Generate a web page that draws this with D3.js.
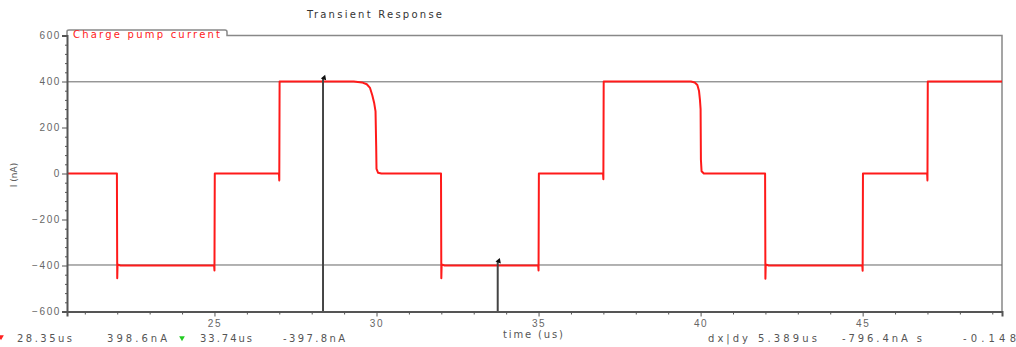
<!DOCTYPE html>
<html>
<head>
<meta charset="utf-8">
<script src="https://cdn.jsdelivr.net/npm/d3@7"></script>
<style>
	body { margin: 0; background: #fff; }
	svg { display: block; font-family: "DejaVu Sans", sans-serif; }
	.tick text { fill: #666; font-size: 10px; }
	.axis path, .axis line { stroke: #555; }
</style>
</head>
<body>
<div id="chart"></div>
<script>
// trace: charge pump current (nA) vs time (us)
var times = [20.45, 21.99, 22.0, 22.01, 22.1,
	24.99, 25.0, 25.01,
	26.99, 27.0, 27.01,
	29.3, 29.55, 29.7, 29.8, 29.87, 29.93, 29.97, 29.99, 30.0, 30.05, 30.15,
	31.99, 32.0, 32.01, 32.1,
	34.99, 35.0, 35.01,
	36.99, 37.0, 37.01,
	39.7, 39.82, 39.9, 39.95, 39.98, 40.0, 40.01, 40.03, 40.1,
	41.99, 42.0, 42.01, 42.1,
	44.99, 45.0, 45.01,
	46.99, 47.0, 47.01, 49.3];
var current = [0, 0, -455, -395, -400,
	-400, -422, 0,
	0, -30, 400,
	400, 396, 388, 372, 340, 305, 270, 120, 20, 3, 0,
	0, -455, -395, -400,
	-400, -422, 0,
	0, -25, 400,
	400, 396, 385, 360, 320, 280, 60, 10, 0,
	0, -458, -395, -400,
	-400, -423, 0,
	0, -30, 400, 400];

var yTicks = [-600, -400, -200, 0, 200, 400, 600];
var xTicks = [25, 30, 35, 40, 45];
var xMinor = [21, 22, 23, 24, 26, 27, 28, 29, 31, 32, 33, 34, 36, 37, 38, 39, 41, 42, 43, 44, 46, 47, 48, 49];
var yMinor = d3.range(-560, 600, 40).filter(function(v) { return v % 200 !== 0; });

// cursors
var cursorT = [28.35, 33.74];
var cursorI = [398.6, -397.8];
var readout = ["28.35us", "398.6nA", "33.74us", "-397.8nA", "dx|dy", "5.389us", "-796.4nA s", "-0.148"];

var width = 1016, height = 347;
var plotL = 67, plotR = 1002, plotT = 35.5, plotB = 311.5;

var svg = d3.select("#chart").append("svg")
	.attr("width", width)
	.attr("height", height);

var xScale = d3.scaleLinear().domain([20.45, 49.3]).range([plotL, plotR]);
var yScale = d3.scaleLinear().domain([-600, 600]).range([plotB, plotT]);

// title
svg.append("text")
	.attr("x", 307).attr("y", 18)
	.attr("textLength", 135).attr("lengthAdjust", "spacing")
	.style("font-size", "10px").style("fill", "#333")
	.text("Transient Response");

// frame: top with legend tab, right side
svg.append("path")
	.attr("d", "M" + plotL + "," + (plotT + 1) + "V31.5Q" + plotL + ",30 " + (plotL + 2) + ",30H225Q227,30 227,32V" + plotT + "H" + plotR + "V" + plotB)
	.attr("fill", "none")
	.attr("stroke", "#888")
	.attr("stroke-width", 1.5);

// cursor horizontal lines
svg.selectAll(".hcursor")
	.data(cursorI)
	.enter()
	.append("line")
	.attr("class", "hcursor")
	.attr("x1", plotL).attr("x2", plotR)
	.attr("y1", function(d) { return yScale(d); })
	.attr("y2", function(d) { return yScale(d); })
	.attr("stroke", "#666")
	.attr("stroke-width", 1);

// the trace
var line = d3.line()
	.x(function(d, i) { return xScale(times[i]); })
	.y(function(d) { return yScale(d); });

svg.append("path")
	.attr("d", line(current))
	.attr("fill", "none")
	.attr("stroke", "#ff1a1a")
	.attr("stroke-width", 2)
	.attr("stroke-linejoin", "round");

// cursor vertical lines
svg.selectAll(".vcursor")
	.data(cursorT)
	.enter()
	.append("line")
	.attr("class", "vcursor")
	.attr("x1", function(d) { return xScale(d); })
	.attr("x2", function(d) { return xScale(d); })
	.attr("y1", plotB)
	.attr("y2", function(d, i) { return yScale(cursorI[i]) - 4; })
	.attr("stroke", "#444")
	.attr("stroke-width", 2);

svg.selectAll(".cmark")
	.data(cursorT)
	.enter()
	.append("path")
	.attr("class", "cmark")
	.attr("transform", function(d, i) { return "translate(" + (xScale(d) + 1) + "," + (yScale(cursorI[i]) - 4) + ") rotate(20)"; })
	.attr("d", d3.symbol().type(d3.symbolTriangle).size(14))
	.attr("fill", "#111");

// axes
var yAxis = d3.axisLeft(yScale).tickValues(yTicks).tickSize(5).tickPadding(2).tickFormat(d3.format("d"));
var gy = svg.append("g")
	.attr("class", "y axis")
	.attr("transform", "translate(" + plotL + ",0)")
	.call(yAxis);
gy.select(".domain").attr("stroke", "#333").attr("stroke-width", 2);
gy.selectAll(".tick text").attr("letter-spacing", "1.6px").attr("dx", "1px");

svg.append("g")
	.attr("class", "axis")
	.attr("transform", "translate(" + plotL + ",0)")
	.call(d3.axisLeft(yScale).tickValues(yMinor).tickSize(2).tickFormat(""))
	.select(".domain").remove();

var xAxis = d3.axisBottom(xScale).tickValues(xTicks).tickSize(5).tickPadding(3);
var gx = svg.append("g")
	.attr("class", "x axis")
	.attr("transform", "translate(0," + plotB + ")")
	.call(xAxis);
gx.select(".domain").attr("stroke", "#555").attr("stroke-width", 2);
gx.selectAll(".tick text").attr("letter-spacing", "1.6px");

svg.append("g")
	.attr("class", "axis")
	.attr("transform", "translate(0," + plotB + ")")
	.call(d3.axisBottom(xScale).tickValues(xMinor).tickSize(3).tickFormat(""))
	.select(".domain").remove();

// legend text in the tab
svg.append("text")
	.attr("x", 73).attr("y", 37.5)
	.attr("textLength", 147).attr("lengthAdjust", "spacing")
	.style("font-size", "10px").style("fill", "#ff2020")
	.text("Charge pump current");

// axis titles
svg.append("text")
	.attr("transform", "translate(17,175) rotate(-90)")
	.attr("text-anchor", "middle")
	.style("font-size", "9px").style("fill", "#555")
	.text("I (nA)");

svg.append("text")
	.attr("x", 503).attr("y", 338)
	.attr("textLength", 60).attr("lengthAdjust", "spacing")
	.style("font-size", "10px").style("fill", "#555")
	.text("time (us)");

// cursor readout row
var readX = [17, 107, 200, 283, 708, 758, 842, 963];
var readW = [55, 60, 52, 62, 40, 59, 80, 53];
svg.selectAll(".readout")
	.data(readout)
	.enter()
	.append("text")
	.attr("class", "readout")
	.attr("x", function(d, i) { return readX[i]; })
	.attr("y", 342)
	.attr("textLength", function(d, i) { return readW[i]; })
	.attr("lengthAdjust", "spacing")
	.style("font-size", "10px").style("fill", "#555")
	.text(function(d) { return d; });

svg.append("path")
	.attr("transform", "translate(1,337) rotate(180)")
	.attr("d", d3.symbol().type(d3.symbolTriangle).size(14))
	.attr("fill", "#ff2020");
svg.append("path")
	.attr("transform", "translate(182,338) rotate(180)")
	.attr("d", d3.symbol().type(d3.symbolTriangle).size(14))
	.attr("fill", "#22cc22");
</script>
</body>
</html>
